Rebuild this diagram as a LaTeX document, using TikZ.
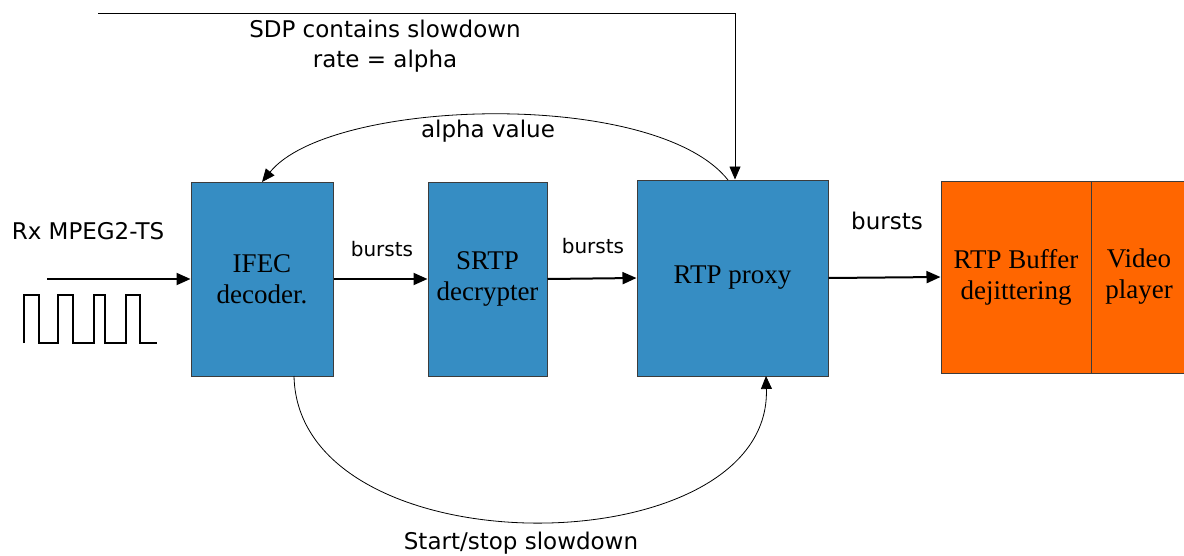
\documentclass[tikz,border=0pt]{standalone}
\usepackage{fontspec}
\setmainfont{Liberation Serif}
\newfontfamily\lblfont{DejaVu Sans}
\usetikzlibrary{arrows.meta}
\definecolor{boxblue}{RGB}{54,141,195}
\definecolor{boxorange}{RGB}{255,102,0}
\definecolor{edgegray}{RGB}{60,60,60}
\tikzset{
  blk/.style={draw=edgegray, line width=1pt, fill=boxblue, align=center, inner sep=0pt,
    font=\fontsize{27}{31}\selectfont, text=black},
  obox/.style={draw=edgegray, line width=1pt, fill=boxorange, align=center, inner sep=0pt,
    font=\fontsize{27}{31}\selectfont, text=black},
  lbl/.style={font=\lblfont\fontsize{23}{30}\selectfont, align=center, inner sep=0pt},
  slbl/.style={font=\lblfont\fontsize{20}{24}\selectfont, inner sep=0pt},
  flow/.style={line width=2pt, -{Triangle[length=14pt,width=12pt]}},
  thin/.style={line width=0.8pt, -{Triangle[length=13pt,width=11pt]}},
}
\begin{document}
\begin{tikzpicture}[x=1pt,y=-1pt]
\useasboundingbox (0,0) rectangle (1184,555);
% boxes
\node[blk, minimum width=142pt, minimum height=194pt] (ifec) at (262,279) {IFEC\\decoder.};
\node[blk, minimum width=119pt, minimum height=194pt] (srtp) at (487.5,279) {SRTP\\decrypter};
\node[blk, minimum width=191pt, minimum height=196pt] (rtp) at (732.5,278) {RTP proxy};
\node[obox, minimum width=150pt, minimum height=192pt] (buf) at (1016,277) {RTP Buffer\\dejittering};
\node[obox, minimum width=96pt, minimum height=192pt] (vid) at (1139,277) {Video\\player};
% labels
\node[lbl] (sdp) at (385,46) {SDP contains slowdown\\rate = alpha};
\node[lbl] (alpha) at (488,131) {alpha value};
\node[lbl] (rx) at (88,231) {Rx MPEG2-TS};
\node[lbl] (ss) at (521,543) {Start/stop slowdown};
\node[slbl] (b1) at (382,249) {bursts};
\node[slbl] (b2) at (593,246) {bursts};
\node[lbl] (b3) at (887,221) {bursts};
% input
\coordinate (in) at (47,279);
\draw[flow] (in) -- (ifec.west);
\draw[line width=1.6pt] (24,343) -- (24,295) -- (39,295) -- (39,343) -- (58,343) -- (58,295)
  -- (73,295) -- (73,343) -- (94,343) -- (94,295) -- (105,295) -- (105,343) -- (126,343)
  -- (126,295) -- (140,295) -- (140,343) -- (157,343);
% flows
\draw[flow] (ifec.east) -- (srtp.west);
\draw[flow] (srtp.east) -- (rtp.west);
\draw[flow] (rtp.east) -- (buf.west);
% SDP line
\coordinate (sdpstart) at (98,13);
\coordinate (sdpcorner) at (735,13);
\draw[thin] (sdpstart) -- (sdpcorner) -- (sdpcorner |- rtp.north);
% alpha arc
\coordinate (aS) at (728,180);
\coordinate (aE) at (262,182);
\draw[thin] (aS) .. controls (655,88) and (330,98) .. (aE);
% start/stop arc
\coordinate (sS) at (294,376);
\coordinate (sE) at (766,376);
\draw[thin] (sS) .. controls (298,572) and (772,568) .. (sE);
\end{tikzpicture}
\end{document}
